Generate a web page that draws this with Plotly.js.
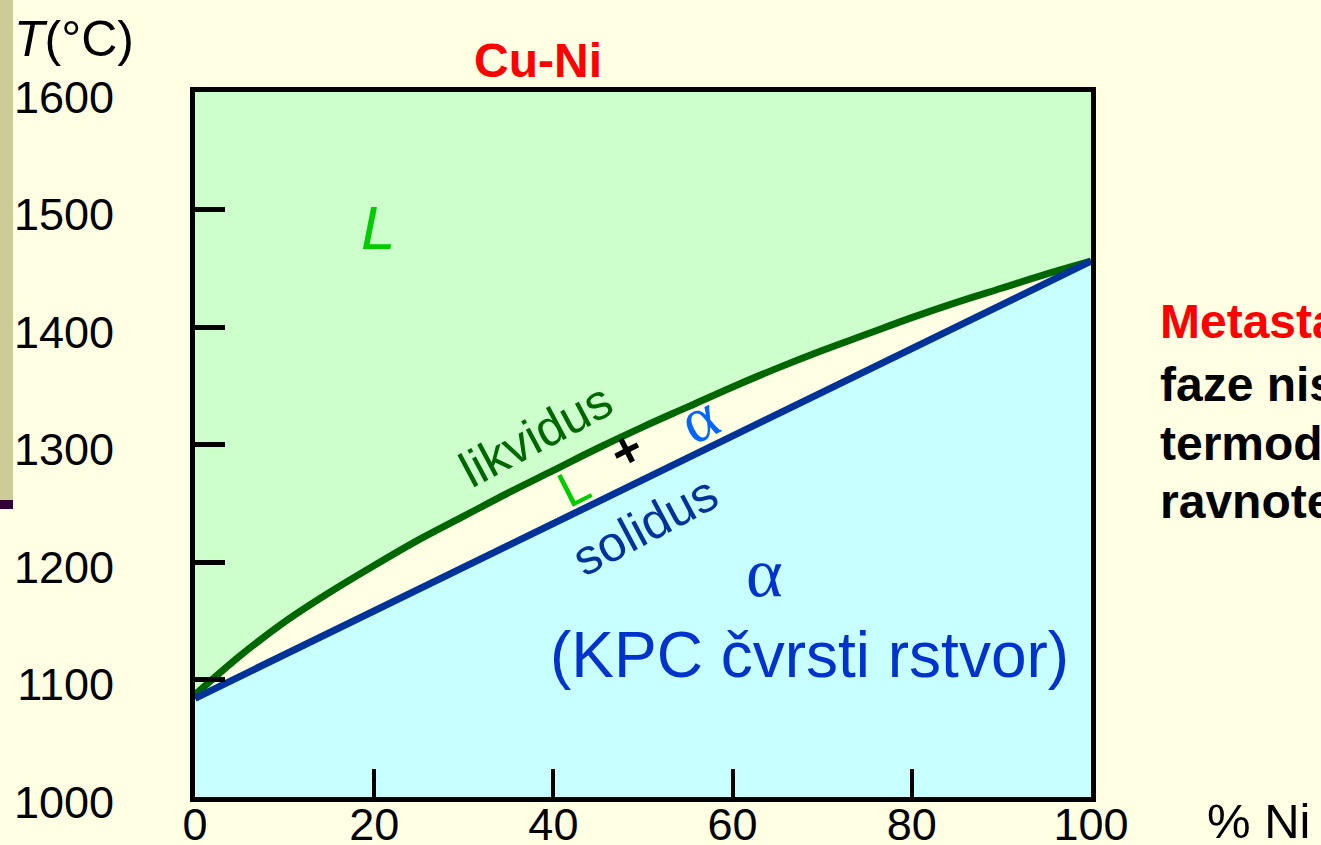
<!DOCTYPE html>
<html>
<head>
<meta charset="utf-8">
<script src="https://cdn.plot.ly/plotly-3.0.1.min.js"></script>
<style>
  html, body { margin: 0; padding: 0; background: #FFFFE3; }
  #chart { width: 1321px; height: 845px; }
</style>
</head>
<body>
<div id="chart"></div>
<script>
// Liquidus: composition (% Ni) and temperature (°C)
const liquidusNi = [0, 5, 10, 15, 20, 25, 30, 35, 40, 45, 50, 55, 60, 65, 70, 75, 80, 85, 90, 95, 100];
const liquidusT = [1087, 1120, 1149, 1174, 1197, 1219, 1239, 1259, 1278, 1297, 1315, 1332, 1349, 1365, 1380, 1394, 1408, 1421, 1433, 1445, 1456];
// Solidus: composition (% Ni) and temperature (°C)
const solidusNi = [0, 50, 100];
const solidusT = [1084, 1270, 1456];

const xTicks = [0, 20, 40, 60, 80, 100];
const yTicks = [1000, 1100, 1200, 1300, 1400, 1500, 1600];
const xRange = [0, 100];
const yRange = [1000, 1600];

const FONT = 'Liberation Sans, Arial, sans-serif';
const SERIF = 'Liberation Serif, Times New Roman, serif';

// Liquid region (above liquidus)
const liquidFill = {
  x: liquidusNi.concat([xRange[1], xRange[0]]),
  y: liquidusT.concat([yRange[1], yRange[1]]),
  type: 'scatter', mode: 'lines', fill: 'toself',
  fillcolor: '#CCFFCC', line: {width: 0, color: 'rgba(0,0,0,0)'},
  hoverinfo: 'skip', showlegend: false
};
// Solid region (below solidus)
const solidFill = {
  x: solidusNi.concat([xRange[1], xRange[0]]),
  y: solidusT.concat([yRange[0], yRange[0]]),
  type: 'scatter', mode: 'lines', fill: 'toself',
  fillcolor: '#C8FFFF', line: {width: 0, color: 'rgba(0,0,0,0)'},
  hoverinfo: 'skip', showlegend: false
};
const liquidusLine = {
  x: liquidusNi, y: liquidusT, type: 'scatter', mode: 'lines',
  line: {color: '#006600', width: 7, shape: 'spline', smoothing: 1}, showlegend: false
};
const solidusLine = {
  x: solidusNi, y: solidusT, type: 'scatter', mode: 'lines',
  line: {color: '#003399', width: 7}, showlegend: false
};

// plot area in pixels
const L = 195, R = 1091, T = 92, B = 797;
function px(xp) { return (xp - L) / (R - L); }
function py(yp) { return (B - yp) / (B - T); }

const annotations = [
  {x: 20.4, y: 1485, text: '<i>L</i>', font: {family: FONT, size: 62, color: '#00CC00'}},
  {x: 38.1, y: 1308, text: 'likvidus', textangle: -28, font: {family: FONT, size: 50, color: '#006600'}},
  {x: 42.3, y: 1264, text: 'L', textangle: -27, font: {family: FONT, size: 50, color: '#00CC00'}},
  {x: 48.2, y: 1295, text: '<b>+</b>', textangle: -27, font: {family: FONT, size: 50, color: '#000000'}},
  {x: 56.3, y: 1322, text: 'α', textangle: -27, font: {family: SERIF, size: 64, color: '#0066FF'}},
  {x: 50.2, y: 1231, text: 'solidus', textangle: -28, font: {family: FONT, size: 50, color: '#003399'}},
  {x: 63.6, y: 1191, text: 'α', font: {family: SERIF, size: 70, color: '#0033CC'}},
  {x: 68.6, y: 1121, text: '(KPC čvrsti rstvor)', font: {family: FONT, size: 64, color: '#0033CC'}},
].map(a => Object.assign({xref: 'x', yref: 'y', showarrow: false, xanchor: 'center', yanchor: 'middle'}, a));

const outside = [
  {x: px(12), y: py(39), xanchor: 'left', text: '<i>T</i>(°C)', font: {family: FONT, size: 50, color: '#000'}},
  {x: px(1205), y: py(821), xanchor: 'left', text: '% Ni', font: {family: FONT, size: 49, color: '#000'}},
  {x: px(1158), y: py(321), xanchor: 'left', text: '<b>Metastabilne</b>', font: {family: FONT, size: 48, color: '#FF0000'}},
  {x: px(1158), y: py(384), xanchor: 'left', text: '<b>faze nisu u</b>', font: {family: FONT, size: 48, color: '#000'}},
  {x: px(1158), y: py(443), xanchor: 'left', text: '<b>termodinamičkoj</b>', font: {family: FONT, size: 48, color: '#000'}},
  {x: px(1158), y: py(502), xanchor: 'left', text: '<b>ravnoteži</b>', font: {family: FONT, size: 48, color: '#000'}},
].map(a => Object.assign({xref: 'paper', yref: 'paper', showarrow: false, yanchor: 'middle'}, a));

const layout = {
  width: 1321, height: 845,
  margin: {l: L, r: 1321 - R, t: T, b: 845 - B, pad: 0},
  paper_bgcolor: '#FFFFE3',
  plot_bgcolor: '#FFFFE3',
  title: {
    text: '<b>Cu-Ni</b>',
    font: {family: FONT, size: 48, color: '#FF0000'},
    x: 538 / 1321, xanchor: 'center', xref: 'container',
    y: 1 - 60 / 845, yanchor: 'middle', yref: 'container'
  },
  xaxis: {
    range: xRange, tickvals: xTicks, ticktext: xTicks.map(String),
    showgrid: false, zeroline: false,
    showline: true, mirror: true, linecolor: '#000', linewidth: 5,
    ticks: 'inside', ticklen: 28, tickwidth: 4, tickcolor: '#000',
    tickfont: {family: FONT, size: 45, color: '#000'},
    ticklabelstandoff: -16
  },
  yaxis: {
    range: yRange, tickvals: yTicks, ticktext: yTicks.map(String),
    showgrid: false, zeroline: false,
    showline: true, mirror: true, linecolor: '#000', linewidth: 5,
    ticks: 'inside', ticklen: 30, tickwidth: 5, tickcolor: '#000',
    tickfont: {family: FONT, size: 45, color: '#000'},
    ticklabelstandoff: 67, ticklabelshift: 5
  },
  shapes: [
    {type: 'rect', xref: 'paper', yref: 'paper', x0: px(0), x1: px(13), y0: py(0), y1: py(500),
     fillcolor: '#CCCC99', line: {width: 0}, layer: 'below'},
    {type: 'rect', xref: 'paper', yref: 'paper', x0: px(0), x1: px(13), y0: py(500), y1: py(509),
     fillcolor: '#330033', line: {width: 0}, layer: 'below'}
  ],
  annotations: annotations.concat(outside),
  showlegend: false
};

Plotly.newPlot('chart', [liquidFill, solidFill, liquidusLine, solidusLine], layout, {displayModeBar: false, staticPlot: true});
</script>
</body>
</html>
